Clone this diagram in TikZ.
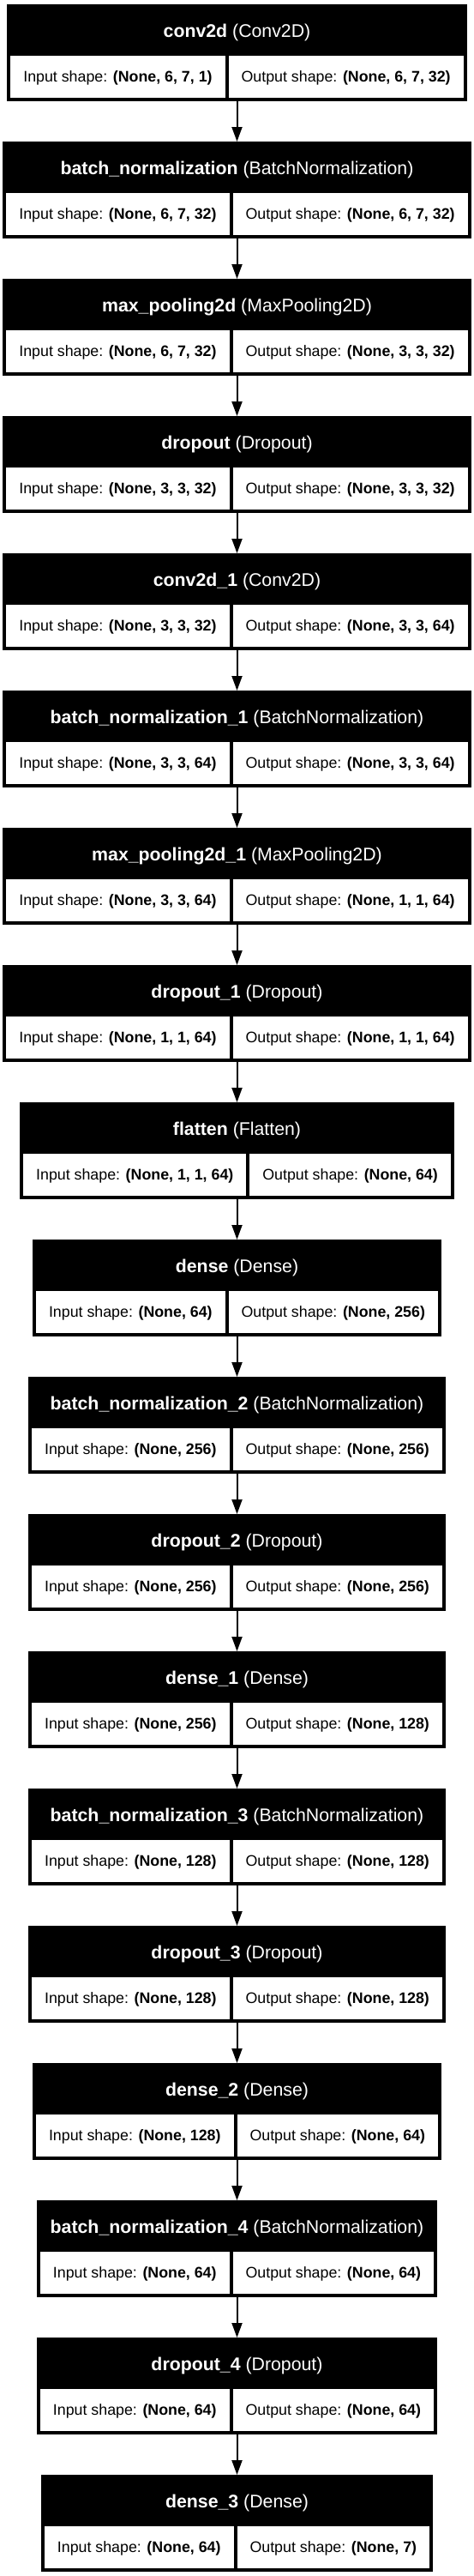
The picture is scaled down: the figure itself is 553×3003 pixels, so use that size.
\documentclass[tikz,border=0pt]{standalone}
\usepackage{fontspec}
\setmainfont{Liberation Sans}
\usetikzlibrary{arrows.meta,fit,matrix}
\tikzset{
  boxmat/.style={matrix, fill=black, inner sep=4pt, outer sep=0pt, column sep=4pt, anchor=north},
  cell/.style={fill=white, inner xsep=15pt, inner ysep=0pt, minimum height=49pt, outer sep=0pt,
    text height=12.7pt, text depth=0pt, font=\fontsize{17.8}{20}\selectfont},
  headbox/.style={fill=black, inner sep=0pt, outer sep=0pt},
  headtext/.style={text=white, inner sep=0pt, text height=15.2pt, text depth=0pt,
    font=\fontsize{21.3}{24}\selectfont},
  conn/.style={line width=2pt, -{Triangle[length=17pt,width=12pt]}, shorten >=0pt},
}
\newcommand{\layer}[6]{%
  \pgfmathsetmacro{\ytop}{-(5+160*#2)}%
  \matrix (#1) [boxmat, ampersand replacement=\&] at (276.5pt, \ytop pt - 56pt) {
    \node[cell] (#1-in) {Input shape: \textbf{#5}}; \&
    \node[cell] (#1-out) {Output shape: \textbf{#6}}; \\
  };
  \node[headbox, fit={(#1.north west) ([yshift=56pt]#1.north east)}] (#1-head) {};
  \node[headtext] (#1-title) at ([yshift=-3pt]#1-head.center) {\textbf{#3} (#4)};
}
\begin{document}
\begin{tikzpicture}
\fill[white] (0pt,0pt) rectangle (553pt,-3003pt);
\useasboundingbox (0pt,0pt) rectangle (553pt,-3003pt);
\layer{L0}{0}{conv2d}{Conv2D}{(None, 6, 7, 1)}{(None, 6, 7, 32)}
\layer{L1}{1}{batch\_normalization}{BatchNormalization}{(None, 6, 7, 32)}{(None, 6, 7, 32)}
\layer{L2}{2}{max\_pooling2d}{MaxPooling2D}{(None, 6, 7, 32)}{(None, 3, 3, 32)}
\layer{L3}{3}{dropout}{Dropout}{(None, 3, 3, 32)}{(None, 3, 3, 32)}
\layer{L4}{4}{conv2d\_1}{Conv2D}{(None, 3, 3, 32)}{(None, 3, 3, 64)}
\layer{L5}{5}{batch\_normalization\_1}{BatchNormalization}{(None, 3, 3, 64)}{(None, 3, 3, 64)}
\layer{L6}{6}{max\_pooling2d\_1}{MaxPooling2D}{(None, 3, 3, 64)}{(None, 1, 1, 64)}
\layer{L7}{7}{dropout\_1}{Dropout}{(None, 1, 1, 64)}{(None, 1, 1, 64)}
\layer{L8}{8}{flatten}{Flatten}{(None, 1, 1, 64)}{(None, 64)}
\layer{L9}{9}{dense}{Dense}{(None, 64)}{(None, 256)}
\layer{L10}{10}{batch\_normalization\_2}{BatchNormalization}{(None, 256)}{(None, 256)}
\layer{L11}{11}{dropout\_2}{Dropout}{(None, 256)}{(None, 256)}
\layer{L12}{12}{dense\_1}{Dense}{(None, 256)}{(None, 128)}
\layer{L13}{13}{batch\_normalization\_3}{BatchNormalization}{(None, 128)}{(None, 128)}
\layer{L14}{14}{dropout\_3}{Dropout}{(None, 128)}{(None, 128)}
\layer{L15}{15}{dense\_2}{Dense}{(None, 128)}{(None, 64)}
\layer{L16}{16}{batch\_normalization\_4}{BatchNormalization}{(None, 64)}{(None, 64)}
\layer{L17}{17}{dropout\_4}{Dropout}{(None, 64)}{(None, 64)}
\layer{L18}{18}{dense\_3}{Dense}{(None, 64)}{(None, 7)}
\foreach \a/\b in {0/1,1/2,2/3,3/4,4/5,5/6,6/7,7/8,8/9,9/10,10/11,11/12,12/13,13/14,14/15,15/16,16/17,17/18}
  \draw[conn] (L\a.south) -- (L\b-head.north);
\end{tikzpicture}
\end{document}
